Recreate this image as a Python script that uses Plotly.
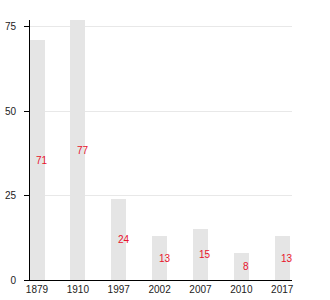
import plotly.graph_objects as go

years = ["1879", "1910", "1997", "2002", "2007", "2010", "2017"]
values = [71, 77, 24, 13, 15, 8, 13]
y_ticks = [0, 25, 50, 75]

fig = go.Figure()
fig.add_trace(go.Bar(
    x=years, y=values, width=0.37,
    marker=dict(color="#e5e5e5", line=dict(width=0)),
    hoverinfo="skip",
))
for i, v in enumerate(values):
    fig.add_annotation(x=i, y=v / 2, xref="x", yref="y", text=str(v), showarrow=False, xshift=5,
                       font=dict(color="#e8132b", size=10, family="Liberation Sans"))

fig.update_layout(
    width=330, height=300,
    margin=dict(l=30, r=38, t=20, b=20, autoexpand=False),
    paper_bgcolor="white", plot_bgcolor="white",
    showlegend=False,
    font=dict(family="Liberation Sans", size=10, color="#222"),
    bargap=0,
)
fig.update_xaxes(type="category", range=[-0.17, 6.24], showline=True, linecolor="black",
                 linewidth=1, ticks="", showgrid=False, zeroline=False, automargin=False)
fig.update_yaxes(range=[0, 77], tickvals=y_ticks, showline=True, linecolor="black",
                 linewidth=1, ticks="outside", ticklen=5, tickcolor="black", tickwidth=1,
                 ticklabelstandoff=6, automargin=False,
                 showgrid=True, gridcolor="#e8e8e8", gridwidth=1, zeroline=False)
fig.write_html("out.html")
